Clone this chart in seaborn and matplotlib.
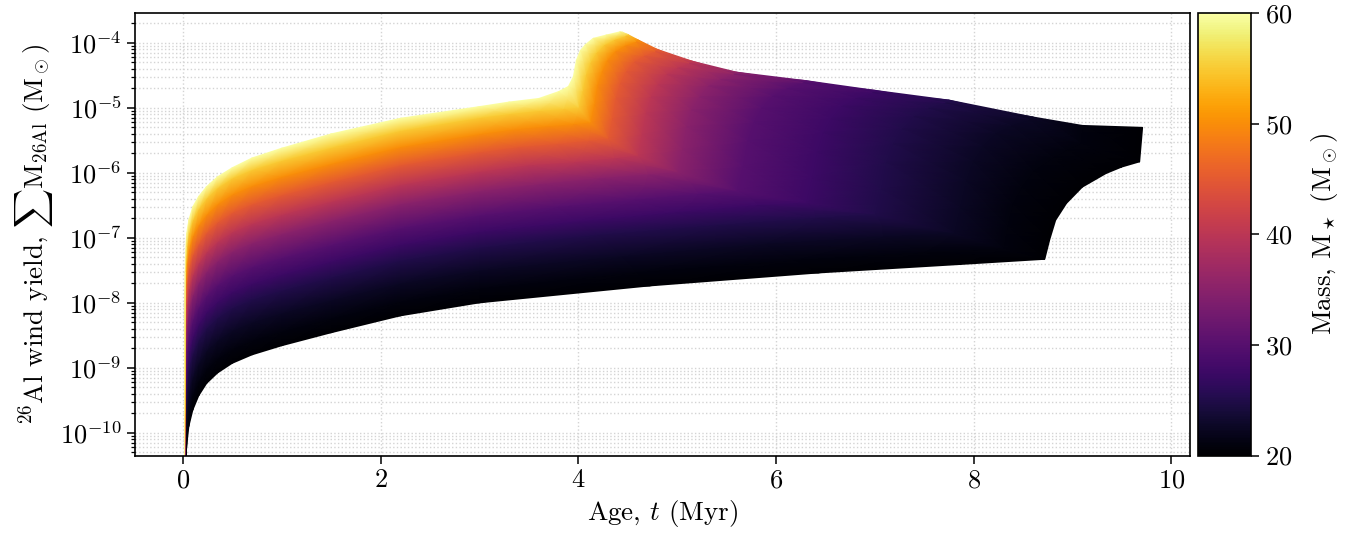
import numpy as np
import matplotlib
matplotlib.use("Agg")
import matplotlib.pyplot as plt
from matplotlib.ticker import FixedLocator, NullFormatter
import seaborn as sns

# stellar masses (Msun), one track per mass
masses = [20, 21, 22.5, 25, 27.5, 30, 35, 40, 45, 50, 55, 60]

# early part of every track is sampled at the same ages (Myr)
early_age = [0.01, 0.025, 0.037, 0.06, 0.10, 0.16, 0.24, 0.35, 0.5, 0.7, 1.0, 1.5, 2.2, 3.0]

# log10 cumulative 26Al wind yield (Msun) at early_age, per mass
early_m20 = [-12.0, -10.80, -10.22, -9.90, -9.65, -9.43, -9.24, -9.08, -8.93, -8.80, -8.66, -8.46, -8.20, -8.00]
early_m21 = [-12.0, -10.55, -9.98, -9.67, -9.42, -9.21, -9.02, -8.86, -8.71, -8.58, -8.44, -8.24, -7.98, -7.78]
early_m22 = [-12.0, -10.23, -9.68, -9.38, -9.14, -8.93, -8.74, -8.58, -8.43, -8.30, -8.16, -7.96, -7.70, -7.50]
early_m25 = [-12.0, -9.82, -9.30, -9.01, -8.78, -8.57, -8.39, -8.23, -8.08, -7.95, -7.81, -7.61, -7.35, -7.15]
early_m27 = [-12.0, -9.54, -9.03, -8.75, -8.52, -8.32, -8.14, -7.98, -7.83, -7.70, -7.56, -7.36, -7.10, -6.90]
early_m30 = [-12.0, -9.25, -8.76, -8.49, -8.26, -8.07, -7.89, -7.73, -7.58, -7.45, -7.31, -7.11, -6.85, -6.65]
early_m35 = [-12.0, -8.82, -8.36, -8.10, -7.88, -7.69, -7.52, -7.36, -7.21, -7.08, -6.94, -6.74, -6.48, -6.28]
early_m40 = [-12.0, -8.48, -8.04, -7.79, -7.57, -7.39, -7.22, -7.06, -6.91, -6.78, -6.64, -6.44, -6.18, -5.98]
early_m45 = [-12.0, -8.13, -7.71, -7.47, -7.26, -7.09, -6.92, -6.76, -6.61, -6.48, -6.34, -6.14, -5.88, -5.68]
early_m50 = [-12.0, -7.81, -7.41, -7.18, -6.97, -6.80, -6.64, -6.48, -6.33, -6.20, -6.06, -5.86, -5.60, -5.40]
early_m55 = [-12.0, -7.52, -7.14, -6.92, -6.72, -6.55, -6.39, -6.23, -6.08, -5.95, -5.81, -5.61, -5.35, -5.15]
early_m60 = [-12.0, -7.30, -6.93, -6.72, -6.52, -6.36, -6.21, -6.06, -5.92, -5.77, -5.62, -5.40, -5.16, -4.98]

# late part: main sequence up to the jump, then the Wolf-Rayet rise to the end of the track
late_age_m20 = [4.72, 6.43, 7.86, 8.72, 8.77, 8.83, 8.94, 9.10, 9.34, 9.50, 9.68, 9.71]
late_m20 = [-7.74, -7.54, -7.41, -7.33, -7.03, -6.73, -6.47, -6.22, -6.01, -5.91, -5.83, -5.30]
late_age_m21 = [4.59, 6.18, 7.50, 8.30, 8.34, 8.39, 8.48, 8.60, 8.80, 8.93, 9.08, 9.10]
late_m21 = [-7.53, -7.34, -7.22, -7.16, -6.82, -6.48, -6.22, -5.97, -5.76, -5.65, -5.54, -5.27]
late_age_m22 = [4.44, 5.88, 7.08, 7.80, 7.86, 7.92, 7.99, 8.09, 8.22, 8.38, 8.56, 8.60]
late_m22 = [-7.28, -7.09, -6.98, -6.92, -6.53, -6.12, -5.82, -5.59, -5.39, -5.27, -5.18, -5.14]
late_age_m25 = [4.20, 5.40, 6.40, 7.00, 7.06, 7.11, 7.18, 7.27, 7.39, 7.54, 7.71, 7.75]
late_m25 = [-6.95, -6.80, -6.69, -6.63, -6.25, -5.84, -5.55, -5.32, -5.13, -5.00, -4.92, -4.88]
late_age_m27 = [3.99, 4.98, 5.81, 6.30, 6.36, 6.41, 6.47, 6.55, 6.66, 6.80, 6.97, 7.00]
late_m27 = [-6.74, -6.60, -6.49, -6.45, -6.07, -5.68, -5.38, -5.16, -4.97, -4.85, -4.76, -4.73]
late_age_m30 = [3.78, 4.56, 5.21, 5.60, 5.66, 5.71, 5.77, 5.85, 5.96, 6.10, 6.27, 6.30]
late_m30 = [-6.52, -6.41, -6.32, -6.27, -5.90, -5.51, -5.22, -5.00, -4.82, -4.70, -4.61, -4.58]
late_age_m35 = [3.60, 4.20, 4.70, 5.00, 5.05, 5.09, 5.14, 5.22, 5.31, 5.43, 5.57, 5.60]
late_m35 = [-6.17, -6.08, -6.02, -5.98, -5.64, -5.29, -5.03, -4.83, -4.66, -4.56, -4.48, -4.45]
late_age_m40 = [3.48, 3.96, 4.36, 4.60, 4.64, 4.68, 4.73, 4.80, 4.89, 5.00, 5.12, 5.15]
late_m40 = [-5.88, -5.83, -5.77, -5.73, -5.41, -5.08, -4.83, -4.64, -4.48, -4.38, -4.31, -4.28]
late_age_m45 = [3.39, 3.78, 4.10, 4.30, 4.34, 4.375, 4.42, 4.48, 4.56, 4.66, 4.775, 4.80]
late_m45 = [-5.60, -5.55, -5.50, -5.47, -5.17, -4.85, -4.62, -4.44, -4.29, -4.20, -4.13, -4.10]
late_age_m50 = [3.34, 3.67, 3.95, 4.12, 4.16, 4.19, 4.24, 4.29, 4.37, 4.47, 4.58, 4.60]
late_m50 = [-5.33, -5.28, -5.245, -5.22, -4.94, -4.65, -4.43, -4.27, -4.13, -4.04, -3.98, -3.95]
late_age_m55 = [3.30, 3.60, 3.85, 4.00, 4.04, 4.075, 4.12, 4.18, 4.26, 4.36, 4.475, 4.50]
late_m55 = [-5.09, -5.04, -5.01, -4.99, -4.74, -4.49, -4.30, -4.15, -4.03, -3.95, -3.89, -3.87]
late_age_m60 = [3.30, 3.60, 3.80, 3.90, 3.95, 3.98, 4.02, 4.07, 4.15, 4.28, 4.42, 4.44]
late_m60 = [-4.91, -4.855, -4.75, -4.67, -4.52, -4.27, -4.12, -4.03, -3.93, -3.88, -3.83, -3.83]

early_rows = [early_m20, early_m21, early_m22, early_m25, early_m27, early_m30,
              early_m35, early_m40, early_m45, early_m50, early_m55, early_m60]
late_age_rows = [late_age_m20, late_age_m21, late_age_m22, late_age_m25, late_age_m27, late_age_m30,
                 late_age_m35, late_age_m40, late_age_m45, late_age_m50, late_age_m55, late_age_m60]
late_rows = [late_m20, late_m21, late_m22, late_m25, late_m27, late_m30,
             late_m35, late_m40, late_m45, late_m50, late_m55, late_m60]

ages = np.array([early_age + la for la in late_age_rows])
logys = np.array([e + l for e, l in zip(early_rows, late_rows)])
mass_grid = np.repeat(np.array(masses, dtype=float)[:, None], ages.shape[1], axis=1)

sns.set_theme(style="ticks")
fs = 19
plt.rcParams.update({
    "font.family": "serif",
    "font.serif": ["cmr10"],
    "mathtext.fontset": "cm",
    "axes.formatter.use_mathtext": True,
    "font.size": fs,
    "axes.labelsize": fs + 0.5,
    "xtick.labelsize": fs,
    "ytick.labelsize": fs,
    "axes.linewidth": 1.2,
    "axes.edgecolor": "black",
    "xtick.color": "black",
    "ytick.color": "black",
    "text.color": "black",
    "axes.labelcolor": "black",
})

cmap = sns.color_palette("inferno", as_cmap=True)

fig = plt.figure(figsize=(13.61, 5.38), dpi=100)
ax = fig.add_axes([0.0992, 0.1533, 0.7752, 0.8225])
cax = fig.add_axes([0.8805, 0.1533, 0.0390, 0.8225])

ax.set_yscale("log")
mesh = ax.pcolormesh(ages, 10.0 ** logys, mass_grid, shading="gouraud",
                     cmap=cmap, vmin=20, vmax=60, zorder=2)

ymin, ymax = 10 ** -10.35, 10 ** -3.54
ax.set_xlim(-0.485, 10.19)
ax.set_ylim(ymin, ymax)
decades = [10.0 ** k for k in range(-10, -3)]
minor = [m * 10.0 ** k for k in range(-11, -3) for m in range(2, 10)]
ax.yaxis.set_major_locator(FixedLocator(decades))
ax.yaxis.set_minor_locator(FixedLocator([v for v in minor if ymin <= v <= ymax]))
ax.yaxis.set_minor_formatter(NullFormatter())
ax.set_xticks([0, 2, 4, 6, 8, 10])

ax.grid(True, which="major", axis="x", ls=":", color="#d4d4d4", lw=1.0, zorder=0)
ax.grid(True, which="both", axis="y", ls=":", color="#d4d4d4", lw=1.0, zorder=0)
ax.set_axisbelow(True)

ax.tick_params(which="major", direction="out", length=6, width=1.1)
ax.tick_params(which="minor", direction="out", length=3, width=0.9)

ax.set_xlabel(r"Age, $t$ (Myr)")
ax.set_ylabel(r"$^{26}$Al wind yield, $\sum\mathrm{M}_{26\mathrm{Al}}$ ($\mathrm{M}_\odot$)")

cb = fig.colorbar(mesh, cax=cax)
cb.set_ticks([20, 30, 40, 50, 60])
cb.outline.set_linewidth(1.2)
cax.tick_params(direction="out", length=6, width=1.1)
cb.set_label(r"Mass, $\mathrm{M}_\star$ ($\mathrm{M}_\odot$)", labelpad=12)

fig.savefig("out.png", dpi=100)
